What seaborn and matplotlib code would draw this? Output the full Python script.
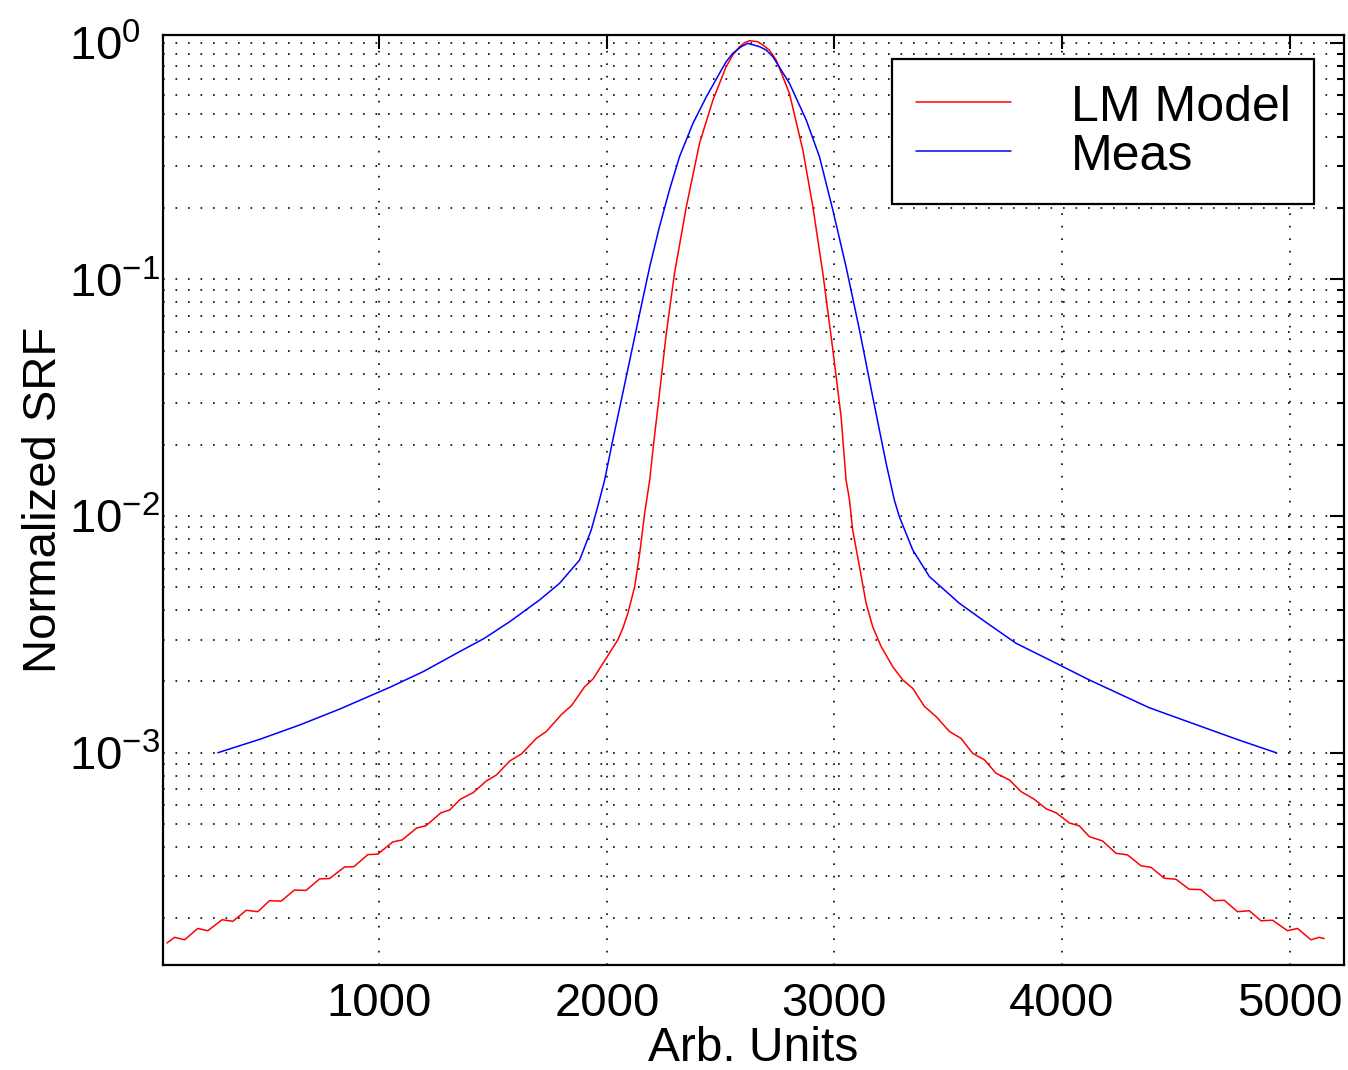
import numpy as np
import pandas as pd
import matplotlib
matplotlib.use("Agg")
import matplotlib.pyplot as plt
import matplotlib.ticker as mticker
import seaborn as sns

# ---- data ----
red_x = [66, 100, 144, 202, 246, 309, 356, 415, 466, 517,
         568, 627, 678, 737, 781, 847, 888, 949, 993, 1059,
         1100, 1164, 1204, 1270, 1309, 1356, 1412, 1470, 1514, 1573,
         1624, 1690, 1734, 1800, 1844, 1902, 1939, 1997, 2048, 2070,
         2092, 2122, 2144, 2166, 2188, 2202, 2231, 2261, 2297, 2349,
         2407, 2466, 2524, 2553, 2583, 2605, 2627, 2663, 2685, 2714,
         2744, 2802, 2861, 2905,
         2949, 2993, 3029, 3051, 3066, 3080, 3110, 3139, 3168, 3205,
         3256, 3300, 3344, 3395, 3447, 3505, 3556, 3607, 3659, 3710,
         3769, 3820, 3878, 3931, 3975, 4032, 4076, 4120, 4178, 4237,
         4288, 4347, 4391, 4449, 4501, 4559, 4610, 4669, 4713, 4771,
         4823, 4874, 4925, 4991, 5035, 5094, 5130, 5152]
red_y = [1.57e-4, 1.66e-4, 1.62e-4, 1.81e-4, 1.77e-4, 1.97e-4, 1.94e-4, 2.16e-4, 2.13e-4, 2.37e-4,
         2.36e-4, 2.63e-4, 2.62e-4, 2.93e-4, 2.94e-4, 3.29e-4, 3.30e-4, 3.71e-4, 3.73e-4, 4.20e-4,
         4.28e-4, 4.81e-4, 4.91e-4, 5.57e-4, 5.73e-4, 6.36e-4, 6.78e-4, 7.60e-4, 8.05e-4, 9.23e-4,
         9.88e-4, 1.15e-3, 1.23e-3, 1.45e-3, 1.58e-3, 1.90e-3, 2.05e-3, 2.51e-3, 3.00e-3, 3.36e-3,
         3.88e-3, 5.03e-3, 6.96e-3, 1.03e-2, 1.42e-2, 1.90e-2, 3.30e-2, 5.92e-2, 0.106, 0.203,
         0.376, 0.573, 0.792, 0.887, 0.962, 1.0, 1.02, 1.01, 0.978, 0.931,
         0.845, 0.611, 0.352, 0.203,
         0.106, 5.03e-2, 2.63e-2, 1.42e-2, 1.17e-2, 8.73e-3, 6.11e-3, 4.28e-3, 3.41e-3, 2.81e-3,
         2.31e-3, 2.03e-3, 1.87e-3, 1.57e-3, 1.42e-3, 1.23e-3, 1.15e-3, 9.95e-4, 9.33e-4, 8.19e-4,
         7.67e-4, 6.85e-4, 6.36e-4, 5.79e-4, 5.57e-4, 5.05e-4, 4.91e-4, 4.42e-4, 4.24e-4, 3.76e-4,
         3.70e-4, 3.33e-4, 3.28e-4, 2.95e-4, 2.92e-4, 2.65e-4, 2.64e-4, 2.37e-4, 2.38e-4, 2.13e-4,
         2.15e-4, 1.95e-4, 1.96e-4, 1.77e-4, 1.81e-4, 1.62e-4, 1.66e-4, 1.64e-4]

blue_x = [290, 475, 650, 826, 1046, 1192, 1339, 1463, 1573, 1704,
          1792, 1880, 1931, 1960, 1990, 2026, 2085, 2144, 2188, 2231,
          2275, 2319, 2378, 2437, 2495, 2524, 2553, 2590, 2619, 2671, 2700, 2729, 2802,
          2876, 2934, 2993, 3051, 3110, 3168, 3227, 3263, 3285, 3344,
          3417, 3549, 3651, 3798, 3944, 4120, 4383, 4603, 4779, 4941]
blue_y = [1.0e-3, 1.14e-3, 1.31e-3, 1.53e-3, 1.89e-3, 2.20e-3, 2.63e-3, 3.05e-3, 3.58e-3, 4.42e-3,
          5.20e-3, 6.52e-3, 8.73e-3, 1.10e-2, 1.42e-2, 2.10e-2, 3.88e-2, 7.19e-2, 0.113, 0.167,
          0.239, 0.330, 0.456, 0.591, 0.743, 0.831, 0.902, 0.962, 0.994, 0.962, 0.931, 0.873, 0.674,
          0.471, 0.330, 0.196, 0.113, 6.11e-2, 3.19e-2, 1.67e-2, 1.17e-2, 9.94e-3, 7.19e-3,
          5.55e-3, 4.28e-3, 3.64e-3, 2.90e-3, 2.47e-3, 2.03e-3, 1.55e-3, 1.30e-3, 1.13e-3, 1.0e-3]

series_labels = ["LM Model", "Meas"]
x_ticks = [1000, 2000, 3000, 4000, 5000]
x_label = "Arb. Units"
y_label = "Normalized SRF"

# ---- style ----
sns.set_theme(style="white")
plt.rcParams["font.family"] = ["Liberation Sans", "DejaVu Sans"]
plt.rcParams["mathtext.fontset"] = "custom"
plt.rcParams["mathtext.rm"] = "Liberation Sans"
plt.rcParams["mathtext.it"] = "Liberation Sans:italic"
plt.rcParams["mathtext.bf"] = "Liberation Sans:bold"
plt.rcParams["axes.unicode_minus"] = True
for key in ["text.color", "axes.labelcolor", "xtick.color", "ytick.color",
            "axes.edgecolor", "xtick.labelcolor", "ytick.labelcolor"]:
    plt.rcParams[key] = "black"

fig = plt.figure(figsize=(13.48, 10.70), dpi=100)
ax = fig.add_axes([0.1209, 0.0981, 0.8761, 0.8695])

df_red = pd.DataFrame({"x": red_x, "y": red_y})
df_blue = pd.DataFrame({"x": blue_x, "y": blue_y})

sns.lineplot(data=df_red, x="x", y="y", ax=ax, color=(1, 0, 0), linewidth=1.1,
             estimator=None, sort=False, label=series_labels[0])
sns.lineplot(data=df_blue, x="x", y="y", ax=ax, color=(0, 0, 1), linewidth=1.1,
             estimator=None, sort=False, label=series_labels[1])

ax.set_yscale("log")
ax.set_xlim(49, 5239)
ax.set_ylim(10 ** -3.897, 10 ** 0.034)
ax.set_xticks(x_ticks)
ax.set_xticklabels([str(t) for t in x_ticks])
ax.yaxis.set_major_locator(mticker.LogLocator(base=10, numticks=10))
ax.yaxis.set_minor_locator(mticker.LogLocator(base=10, subs=np.arange(2, 10), numticks=20))
ax.yaxis.set_minor_formatter(mticker.NullFormatter())
ax.xaxis.set_minor_locator(mticker.NullLocator())

# grid: dotted black
dot = (0, (1, 6.5))
ax.grid(True, which="major", axis="both", color="black", linestyle=dot, linewidth=1.2)
ax.grid(True, which="minor", axis="y", color="black", linestyle=dot, linewidth=1.2)
ax.set_axisbelow(True)

for s in ax.spines.values():
    s.set_visible(True)
    s.set_color("black")
    s.set_linewidth(1.6)

ax.tick_params(axis="both", which="both", direction="in", top=True, right=True,
               color="black", width=1.5, labelsize=34, labelcolor="black")
ax.tick_params(axis="both", which="major", length=10)
ax.tick_params(axis="x", which="major", pad=12)
ax.tick_params(axis="y", which="minor", length=5)
# MATLAB-style: the "10" bases line up on the left, exponents stick out
ax.tick_params(axis="y", which="major", pad=68)

ax.set_xlabel(x_label, fontsize=34.5, color="black", labelpad=0.5)
ax.set_ylabel(y_label, fontsize=34, color="black", labelpad=1.5)

leg = ax.legend(loc="upper right", bbox_to_anchor=(0.9748, 1 - 59 / 1070),
                bbox_transform=fig.transFigure, fontsize=36, frameon=True,
                fancybox=False, edgecolor="black", framealpha=1,
                handlelength=1.9, handletextpad=1.2, borderpad=0.47,
                handleheight=0.95, labelspacing=0.0, borderaxespad=0)
leg.get_frame().set_linewidth(1.6)
for line in leg.get_lines():
    line.set_linewidth(1.1)

fig.canvas.draw()
for t in ax.yaxis.get_majorticklabels():
    t.set_horizontalalignment("left")

fig.savefig("out.png", dpi=100, facecolor="white")
